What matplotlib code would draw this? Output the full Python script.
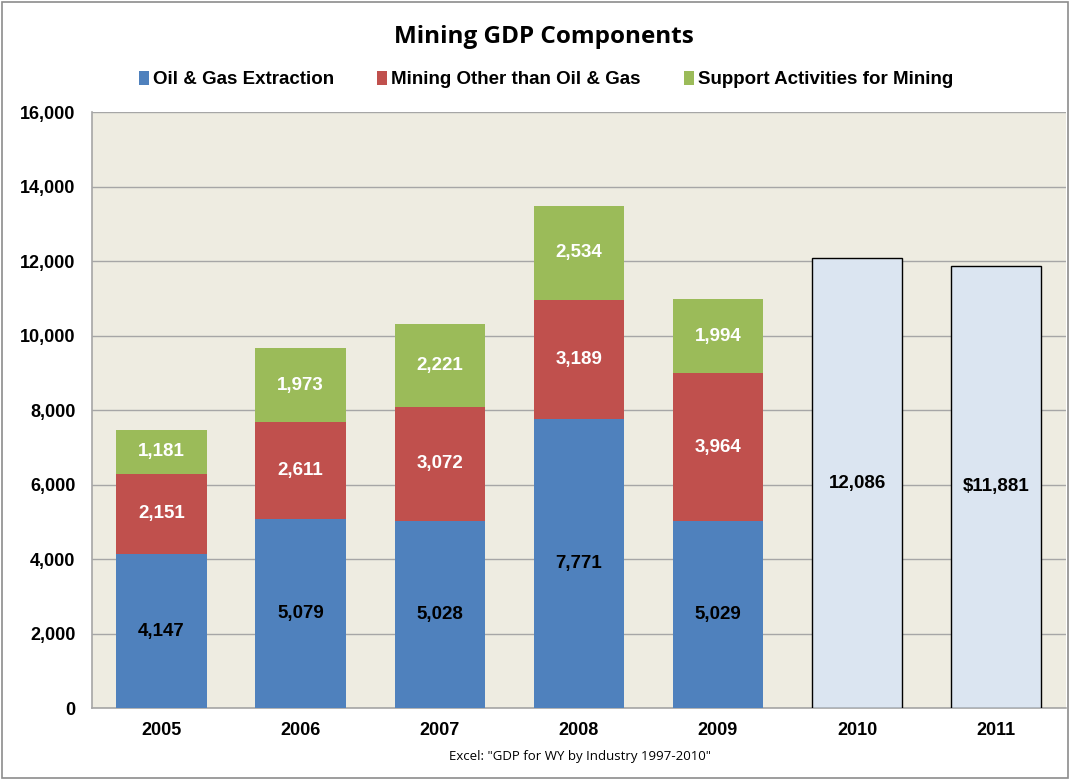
import matplotlib
matplotlib.use("Agg")
import matplotlib.pyplot as plt
import numpy as np
from matplotlib.patches import Rectangle

years = ["2005", "2006", "2007", "2008", "2009", "2010", "2011"]
oil_gas = [4147, 5079, 5028, 7771, 5029]
mining_other = [2151, 2611, 3072, 3189, 3964]
support = [1181, 1973, 2221, 2534, 1994]
totals = [12086, 11881]
total_labels = ["12,086", "$11,881"]
yticks = [0, 2000, 4000, 6000, 8000, 10000, 12000, 14000, 16000]

c_blue = "#4F81BD"
c_red = "#C0504D"
c_green = "#9BBB59"
c_total = "#DBE5F1"
bg = "#EEECE1"

fig = plt.figure(figsize=(10.7, 7.8), dpi=100)
fig.patch.set_facecolor("white")
fig.patches.append(Rectangle((0.002, 0.002), 0.996, 0.996, transform=fig.transFigure,
                             fill=False, edgecolor="#8C8C8C", linewidth=1.2))

ax = fig.add_axes([0.086, 0.092, 0.910, 0.764])
ax.set_facecolor(bg)

x = np.arange(len(years))
w = 0.65
n = len(oil_gas)
b1 = ax.bar(x[:n], oil_gas, w, color=c_blue, label="Oil & Gas Extraction", zorder=3)
b2 = ax.bar(x[:n], mining_other, w, bottom=oil_gas, color=c_red,
            label="Mining Other than Oil & Gas", zorder=3)
bot3 = np.array(oil_gas) + np.array(mining_other)
b3 = ax.bar(x[:n], support, w, bottom=bot3, color=c_green,
            label="Support Activities for Mining", zorder=3)
b4 = ax.bar(x[n:], totals, w, color=c_total, edgecolor="black", linewidth=1.0, zorder=3)

lab_font = dict(fontfamily="Liberation Sans", fontweight="bold", fontsize=13.5)
ax.bar_label(b1, labels=[f"{v:,}" for v in oil_gas], label_type="center", color="black", **lab_font)
ax.bar_label(b2, labels=[f"{v:,}" for v in mining_other], label_type="center", color="white", **lab_font)
ax.bar_label(b3, labels=[f"{v:,}" for v in support], label_type="center", color="white", **lab_font)
ax.bar_label(b4, labels=total_labels, label_type="center", color="black", **lab_font)

ax.set_xlim(-0.5, len(years) - 0.5)
ax.set_ylim(0, 16000)
ax.set_yticks(yticks)
ax.set_yticklabels([f"{v:,}" for v in yticks])
ax.set_xticks(x)
ax.set_xticklabels(years)
ax.yaxis.grid(True, color="#A6A6A6", linewidth=1.0, zorder=0)
ax.set_axisbelow(True)
for s in ["top", "right"]:
    ax.spines[s].set_visible(False)
for s in ["left", "bottom"]:
    ax.spines[s].set_color("#A6A6A6")
    ax.spines[s].set_linewidth(1.2)
ax.tick_params(axis="both", length=0)
ax.tick_params(axis="x", pad=10)
ax.tick_params(axis="y", pad=12)
for lbl in ax.get_xticklabels() + ax.get_yticklabels():
    lbl.set_fontfamily("Liberation Sans")
    lbl.set_fontweight("bold")
    lbl.set_fontsize(13)

fig.text(0.508, 0.952, "Mining GDP Components", ha="center", va="center",
         fontfamily="Open Sans", fontweight="bold", fontsize=17.5)

leg = fig.legend(handles=[b1, b2, b3], loc="center", bbox_to_anchor=(0.51, 0.898),
                 ncol=3, frameon=False, handlelength=0.55, handleheight=0.8,
                 handletextpad=0.2, columnspacing=2.3,
                 prop=dict(family="Liberation Sans", weight="bold", size=13.5))

fig.text(0.542, 0.030, 'Excel: "GDP for WY by Industry 1997-2010"', ha="center", va="center",
         fontfamily="Open Sans", fontsize=9.5)

fig.savefig("out.png", dpi=100, facecolor=fig.get_facecolor())
